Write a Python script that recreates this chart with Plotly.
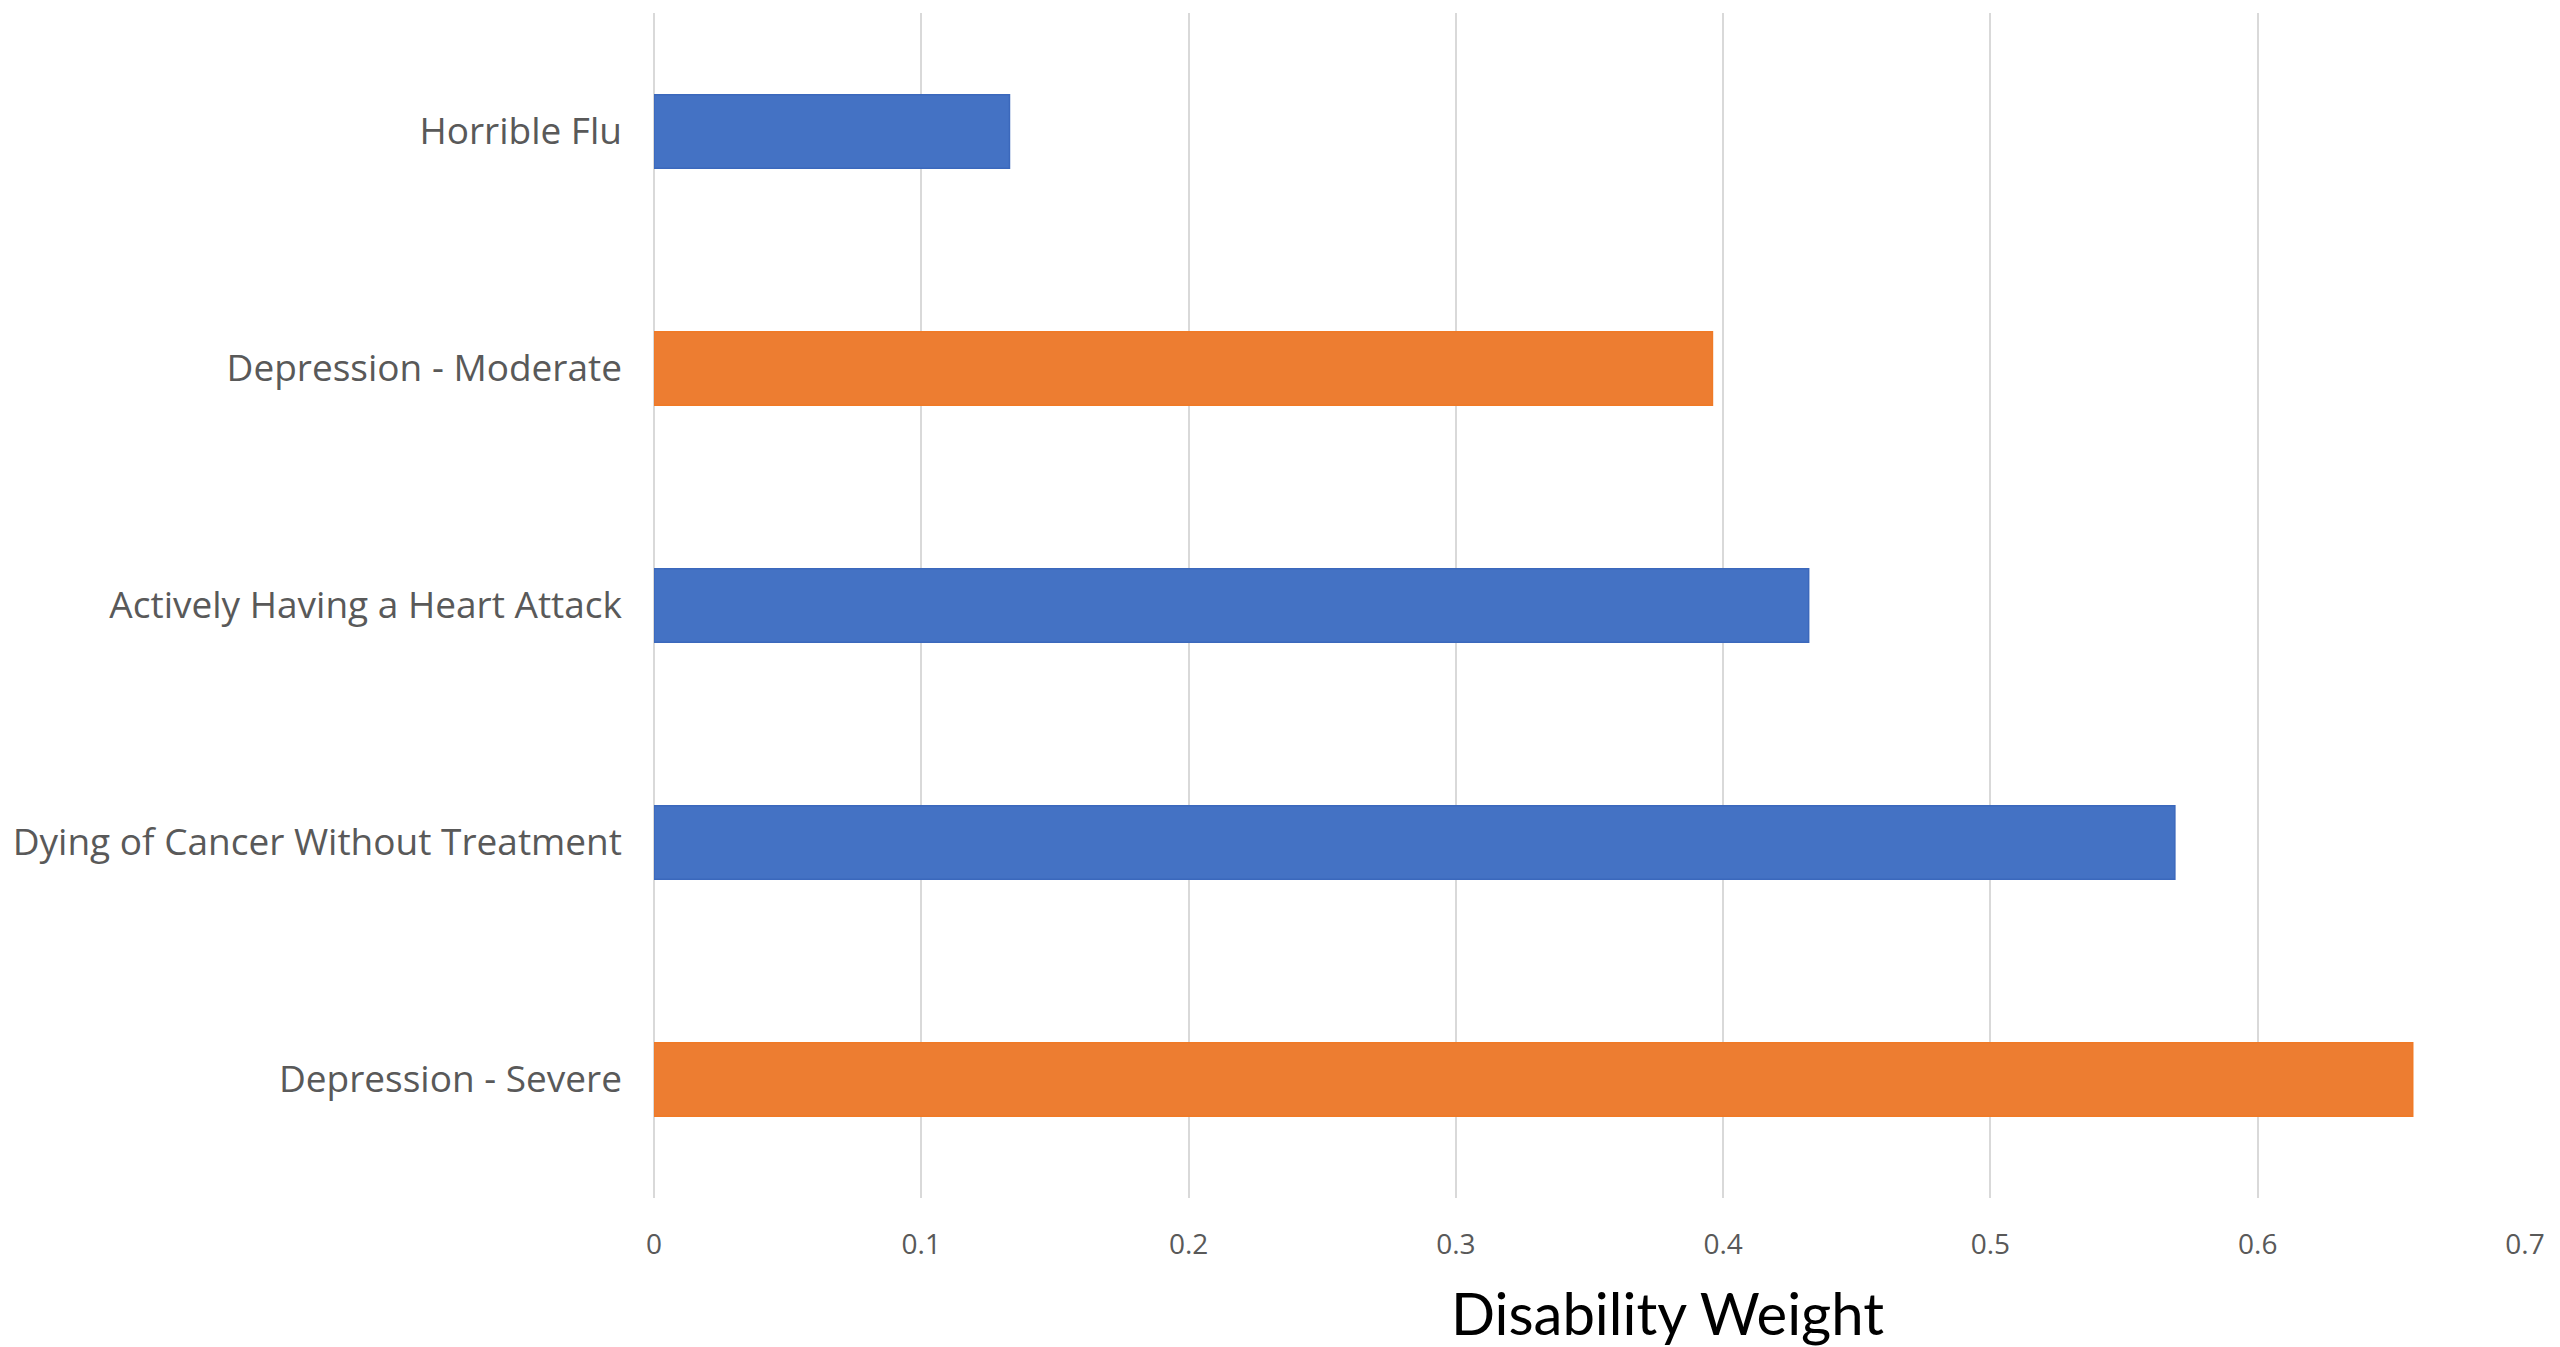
import plotly.graph_objects as go

# Disability weights per health state (top to bottom)
conditions = [
    "Horrible Flu",
    "Depression - Moderate",
    "Actively Having a Heart Attack",
    "Dying of Cancer Without Treatment",
    "Depression - Severe",
]
disability_weight = [0.133, 0.396, 0.432, 0.569, 0.658]
x_ticks = [0, 0.1, 0.2, 0.3, 0.4, 0.5, 0.6, 0.7]
x_tick_labels = ["0", "0.1", "0.2", "0.3", "0.4", "0.5", "0.6", "0.7"]

BLUE = "#4472C4"
ORANGE = "#ED7D31"
bar_colors = [ORANGE if c.startswith("Depression") else BLUE for c in conditions]
edge_colors = ["#F07A26" if c.startswith("Depression") else "#3B68BC" for c in conditions]

fig = go.Figure(
    go.Bar(
        x=disability_weight,
        y=conditions,
        orientation="h",
        marker=dict(color=bar_colors, line=dict(color=edge_colors, width=1.5)),
        hoverinfo="x+y",
    )
)

W, H = 2560, 1347
ml, mr, mt, mb = 654, 35, 13, 149

fig.update_layout(
    width=W,
    height=H,
    margin=dict(l=ml, r=mr, t=mt, b=mb, pad=0),
    paper_bgcolor="white",
    plot_bgcolor="white",
    bargap=0.69,
    showlegend=False,
    xaxis=dict(
        range=[0, 0.7],
        tickmode="array",
        tickvals=x_ticks,
        ticktext=x_tick_labels,
        showgrid=True,
        gridcolor="#D9D9D9",
        gridwidth=2,
        zeroline=True,
        zerolinecolor="#D9D9D9",
        zerolinewidth=2,
        showline=False,
        ticks="",
        ticklabelstandoff=27,
        tickfont=dict(family="Open Sans", size=28, color="#595959"),
        fixedrange=True,
    ),
    yaxis=dict(
        categoryorder="array",
        categoryarray=conditions,
        autorange="reversed",
        showgrid=False,
        zeroline=False,
        showline=False,
        ticks="",
        ticklabelstandoff=31,
        tickfont=dict(family="Open Sans", size=37, color="#595959"),
        fixedrange=True,
    ),
    annotations=[
        dict(
            text="Disability Weight",
            xref="paper",
            yref="paper",
            x=(1667 - ml) / (W - ml - mr),
            y=0,
            xanchor="center",
            yanchor="top",
            yshift=-78,
            showarrow=False,
            font=dict(family="Lato", size=58, color="#000000"),
        )
    ],
)

fig.write_html("out.html")
